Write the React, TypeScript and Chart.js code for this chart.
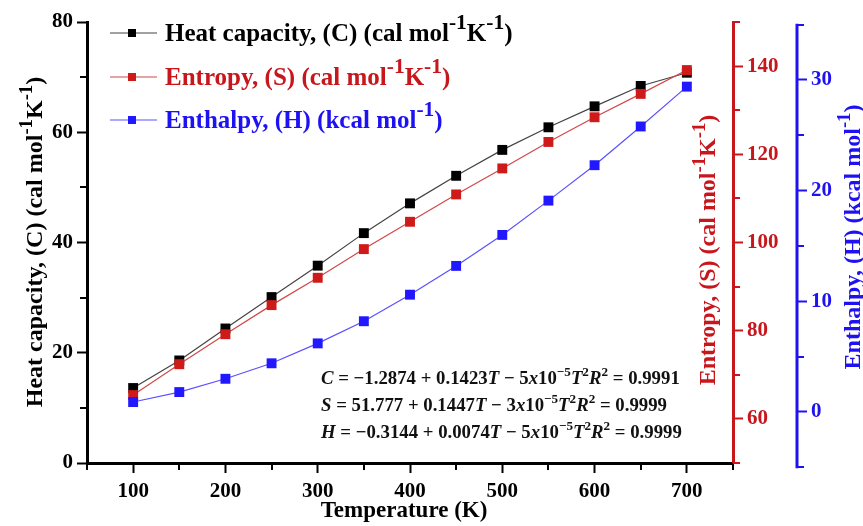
import React, { useEffect, useRef } from "react";
import { Chart, registerables } from "chart.js";

Chart.register(...registerables);

// ---------- data ----------
const temperatures = [100, 150, 200, 250, 300, 350, 400, 450, 500, 550, 600, 650, 700];
const heatCapacity = [13.6, 18.6, 24.4, 30.1, 35.8, 41.7, 47.1, 52.1, 56.8, 60.9, 64.7, 68.4, 70.8];
const entropy = [65.4, 72.4, 79.2, 85.8, 92.0, 98.5, 104.7, 110.9, 116.8, 122.8, 128.4, 133.7, 139.1];
const enthalpy = [0.9, 1.8, 3.0, 4.4, 6.2, 8.2, 10.6, 13.2, 16.0, 19.1, 22.3, 25.8, 29.4];

const xMajorTicks = [100, 200, 300, 400, 500, 600, 700];
const xMinorTicks = [50, 150, 250, 350, 450, 550, 650, 750];
const cMajorTicks = [0, 20, 40, 60, 80];
const cMinorTicks = [10, 30, 50, 70];
const sMajorTicks = [60, 80, 100, 120, 140];
const sMinorTicks = [50, 70, 90, 110, 130, 150];
const hMajorTicks = [0, 10, 20, 30];
const hMinorTicks = [-5, 5, 15, 25, 35];

type Seg = { t: string; sup?: boolean; it?: boolean };

const xTitle: Seg[] = [{ t: "Temperature (K)" }];
const heatLabel: Seg[] = [{ t: "Heat capacity, (C) (cal mol" }, { t: "-1", sup: true }, { t: "K" }, { t: "-1", sup: true }, { t: ")" }];
const entropyLabel: Seg[] = [{ t: "Entropy, (S) (cal mol" }, { t: "-1", sup: true }, { t: "K" }, { t: "-1", sup: true }, { t: ")" }];
const enthalpyLabel: Seg[] = [{ t: "Enthalpy, (H) (kcal mol" }, { t: "-1", sup: true }, { t: ")" }];

const equationC: Seg[] = [
  { t: "C", it: true }, { t: " = \u22121.2874 + 0.1423" }, { t: "T", it: true }, { t: " \u2212 5" }, { t: "x", it: true },
  { t: "10" }, { t: "\u22125", sup: true }, { t: "T", it: true }, { t: "2", sup: true }, { t: "R", it: true }, { t: "2", sup: true }, { t: " = 0.9991" },
];
const equationS: Seg[] = [
  { t: "S", it: true }, { t: " = 51.777 + 0.1447" }, { t: "T", it: true }, { t: " \u2212 3" }, { t: "x", it: true },
  { t: "10" }, { t: "\u22125", sup: true }, { t: "T", it: true }, { t: "2", sup: true }, { t: "R", it: true }, { t: "2", sup: true }, { t: " = 0.9999" },
];
const equationH: Seg[] = [
  { t: "H", it: true }, { t: " = \u22120.3144 + 0.0074" }, { t: "T", it: true }, { t: " \u2212 5" }, { t: "x", it: true },
  { t: "10" }, { t: "\u22125", sup: true }, { t: "T", it: true }, { t: "2", sup: true }, { t: "R", it: true }, { t: "2", sup: true }, { t: " = 0.9999" },
];

// ---------- styling ----------
const FAMILY = '"Liberation Serif", "Times New Roman", serif';
const BLACK = "#000000";
const RED = "#C8161D";
const BLUE = "#1E12F2";
const RED_POINT = "#CF1A1A";
const BLUE_POINT = "#2218FF";

function fontFor(size: number, seg: Seg, supScale: number) {
  const s = seg.sup ? size * supScale : size;
  return `${seg.it ? "italic " : ""}bold ${s}px ${FAMILY}`;
}
function richWidth(ctx: CanvasRenderingContext2D, segs: Seg[], size: number, supScale = 0.78) {
  let w = 0;
  for (const seg of segs) {
    ctx.font = fontFor(size, seg, supScale);
    w += ctx.measureText(seg.t).width;
  }
  return w;
}
function drawRich(
  ctx: CanvasRenderingContext2D, segs: Seg[], x: number, y: number, size: number, color: string,
  supScale = 0.78, supRaise = 0.42
) {
  let cx = x;
  ctx.fillStyle = color;
  ctx.textAlign = "left";
  ctx.textBaseline = "alphabetic";
  for (const seg of segs) {
    ctx.font = fontFor(size, seg, supScale);
    const dy = seg.sup ? -size * supRaise : 0;
    ctx.fillText(seg.t, cx, y + dy);
    cx += ctx.measureText(seg.t).width;
  }
}
function drawVertical(ctx: CanvasRenderingContext2D, segs: Seg[], baselineX: number, centerY: number, size: number, color: string) {
  ctx.save();
  ctx.translate(baselineX, centerY);
  ctx.rotate(-Math.PI / 2);
  const w = richWidth(ctx, segs, size);
  drawRich(ctx, segs, -w / 2, 0, size, color);
  ctx.restore();
}

const decorPlugin = {
  id: "decor",
  afterDraw(chart: any) {
    const ctx: CanvasRenderingContext2D = chart.ctx;
    const { x, y, yS, yH } = chart.scales;
    ctx.save();
    ctx.lineCap = "butt";
    // minor ticks
    const minor = 7;
    ctx.lineWidth = 2;
    ctx.strokeStyle = BLACK;
    for (const v of xMinorTicks) {
      const px = Math.round(x.getPixelForValue(v));
      ctx.beginPath(); ctx.moveTo(px, x.top); ctx.lineTo(px, x.top + minor); ctx.stroke();
    }
    for (const v of cMinorTicks) {
      const py = Math.round(y.getPixelForValue(v));
      ctx.beginPath(); ctx.moveTo(y.right, py); ctx.lineTo(y.right - minor, py); ctx.stroke();
    }
    ctx.strokeStyle = RED;
    for (const v of sMinorTicks) {
      const py = Math.round(yS.getPixelForValue(v));
      ctx.beginPath(); ctx.moveTo(yS.left, py); ctx.lineTo(yS.left + minor, py); ctx.stroke();
    }
    // blue axis line + minor ticks
    ctx.strokeStyle = BLUE;
    ctx.lineWidth = 3;
    ctx.beginPath();
    ctx.moveTo(yH.left, yH.getPixelForValue(35) - 1);
    ctx.lineTo(yH.left, yH.getPixelForValue(-5) + 1);
    ctx.stroke();
    ctx.lineWidth = 2;
    for (const v of hMinorTicks) {
      const py = Math.round(yH.getPixelForValue(v));
      ctx.beginPath(); ctx.moveTo(yH.left, py); ctx.lineTo(yH.left + minor, py); ctx.stroke();
    }

    // axis titles
    drawVertical(ctx, heatLabel, 42, 242, 24, BLACK);
    drawVertical(ctx, entropyLabel, 715, 250, 24, RED);
    drawVertical(ctx, enthalpyLabel, 860, 237, 24, BLUE);
    const tw = richWidth(ctx, xTitle, 23);
    drawRich(ctx, xTitle, 404 - tw / 2, 517, 23, BLACK);

    // legend
    const rows = [
      { segs: heatLabel, color: BLACK, line: "#444444", point: BLACK, y: 33 },
      { segs: entropyLabel, color: RED, line: "#D04848", point: RED_POINT, y: 77 },
      { segs: enthalpyLabel, color: BLUE, line: "#5A50FF", point: BLUE_POINT, y: 120 },
    ];
    for (const r of rows) {
      ctx.strokeStyle = r.line;
      ctx.lineWidth = 1.2;
      ctx.beginPath(); ctx.moveTo(110, r.y); ctx.lineTo(157, r.y); ctx.stroke();
      ctx.fillStyle = r.point;
      ctx.fillRect(128, r.y - 4, 8, 8);
      drawRich(ctx, r.segs, 165, r.y + 8, 25, r.color, 0.86, 0.5);
    }

    // equations
    const target = 359;
    const base = 18;
    const eqSize = (base * target) / richWidth(ctx, equationC, base, 0.7);
    const eqs = [
      { segs: equationC, y: 378 },
      { segs: equationS, y: 405 },
      { segs: equationH, y: 432 },
    ];
    for (const e of eqs) drawRich(ctx, e.segs, 321, e.y + eqSize * 0.33, eqSize, "#111111", 0.7, 0.42);
    ctx.restore();
  },
};

const tickFont = { family: FAMILY, size: 21, weight: "bold" as const };

export default function App() {
  const ref = useRef<HTMLCanvasElement>(null);
  useEffect(() => {
    if (!ref.current) return;
    const pts = (arr: number[]) => temperatures.map((t, i) => ({ x: t, y: arr[i] }));
    const chart = new Chart(ref.current, {
      type: "line",
      data: {
        datasets: [
          {
            label: "Heat capacity, (C)",
            data: pts(heatCapacity),
            yAxisID: "y",
            borderColor: "#444444",
            borderWidth: 1.2,
            pointStyle: "rect",
            pointRadius: 7,
            pointBackgroundColor: BLACK,
            pointBorderColor: BLACK,
            pointBorderWidth: 0,
            order: 2,
          },
          {
            label: "Entropy, (S)",
            data: pts(entropy),
            yAxisID: "yS",
            borderColor: "#D04848",
            borderWidth: 1.2,
            pointStyle: "rect",
            pointRadius: 7,
            pointBackgroundColor: RED_POINT,
            pointBorderColor: RED_POINT,
            pointBorderWidth: 0,
            order: 1,
          },
          {
            label: "Enthalpy, (H)",
            data: pts(enthalpy),
            yAxisID: "yH",
            borderColor: "#5A50FF",
            borderWidth: 1.2,
            pointStyle: "rect",
            pointRadius: 7,
            pointBackgroundColor: BLUE_POINT,
            pointBorderColor: BLUE_POINT,
            pointBorderWidth: 0,
            order: 0,
          },
        ],
      },
      options: {
        responsive: false,
        animation: false,
        events: [],
        layout: { padding: { top: 22, left: 0, right: 0, bottom: 0 } },
        plugins: { legend: { display: false }, tooltip: { enabled: false } },
        scales: {
          x: {
            type: "linear",
            min: 50,
            max: 750,
            afterBuildTicks: (s: any) => { s.ticks = xMajorTicks.map((v) => ({ value: v })); },
            afterFit: (s: any) => { s.height = 63; },
            ticks: { font: tickFont, color: BLACK, padding: 6, maxRotation: 0, autoSkip: false },
            grid: { drawOnChartArea: false, drawTicks: true, tickLength: 10, tickWidth: 2, tickColor: BLACK },
            border: { display: true, width: 3, color: BLACK },
          },
          y: {
            type: "linear",
            position: "left",
            min: 0,
            max: 80,
            afterBuildTicks: (s: any) => { s.ticks = cMajorTicks.map((v) => ({ value: v })); },
            afterFit: (s: any) => { s.width = 87; },
            ticks: { font: tickFont, color: BLACK, padding: 4 },
            grid: { drawOnChartArea: false, drawTicks: true, tickLength: 10, tickWidth: 2, tickColor: BLACK },
            border: { display: true, width: 3, color: BLACK },
          },
          yS: {
            type: "linear",
            position: "right",
            weight: 0,
            min: 50,
            max: 150,
            afterBuildTicks: (s: any) => { s.ticks = sMajorTicks.map((v) => ({ value: v })); },
            afterFit: (s: any) => { s.width = 64; },
            ticks: { font: tickFont, color: RED, padding: 4 },
            grid: { drawOnChartArea: false, drawTicks: true, tickLength: 10, tickWidth: 2, tickColor: RED },
            border: { display: true, width: 3, color: RED },
          },
          yH: {
            type: "linear",
            position: "right",
            weight: 1,
            min: -4.61,
            max: 35.24,
            afterBuildTicks: (s: any) => { s.ticks = hMajorTicks.map((v) => ({ value: v })); },
            afterFit: (s: any) => { s.width = 66; },
            ticks: { font: tickFont, color: BLUE, padding: 4 },
            grid: { drawOnChartArea: false, drawTicks: true, tickLength: 10, tickWidth: 2, tickColor: BLUE },
            border: { display: false },
          },
        },
      },
      plugins: [decorPlugin],
    } as any);
    return () => chart.destroy();
  }, []);

  return (
    <div style={{ position: "fixed", left: 0, top: 0, width: 863, height: 526, background: "#fff" }}>
      <canvas ref={ref} width={863} height={526} style={{ display: "block", width: 863, height: 526 }} />
    </div>
  );
}
